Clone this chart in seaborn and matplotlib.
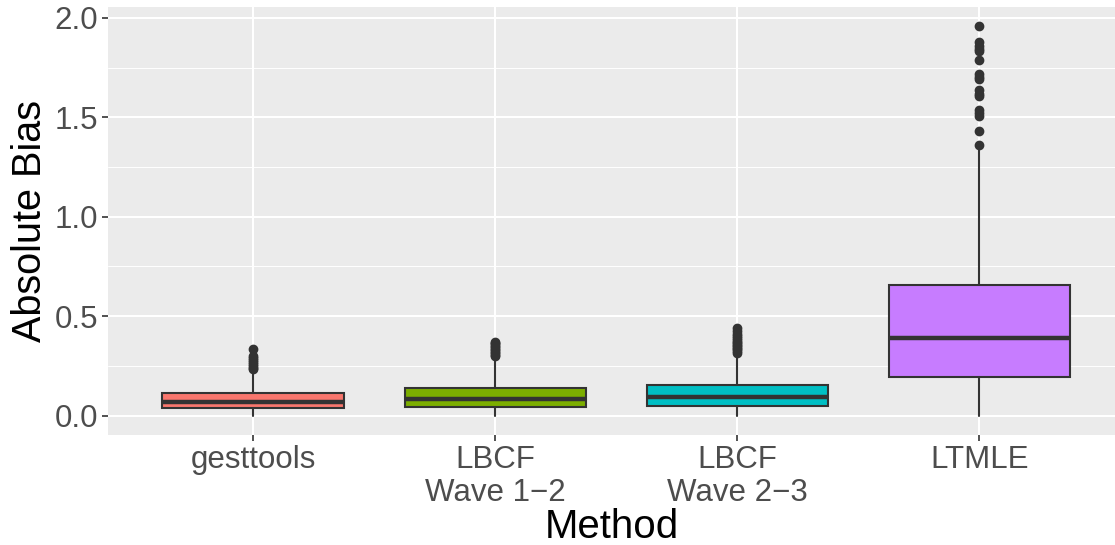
import seaborn as sns
import matplotlib.pyplot as plt

# box summaries
methods = ['gesttools', 'LBCF\nWave 1\u22122', 'LBCF\nWave 2\u22123', 'LTMLE']
colors = ['#F8766D', '#7CAE00', '#00BFC4', '#C77CFF']

whislo = [0.0, 0.0, 0.0, 0.0]
q1 = [0.036, 0.045, 0.049, 0.192]
med = [0.069, 0.083, 0.091, 0.392]
q3 = [0.114, 0.140, 0.153, 0.659]
whishi = [0.225, 0.283, 0.305, 1.35]

out_gest = [0.233, 0.24, 0.25, 0.26, 0.27, 0.28, 0.29, 0.297, 0.333]
out_lbcf12 = [0.298, 0.305, 0.312, 0.32, 0.328, 0.335, 0.343, 0.35, 0.358, 0.365, 0.372]
out_lbcf23 = [0.317, 0.325, 0.333, 0.34, 0.348, 0.356, 0.364, 0.372, 0.38, 0.39,
              0.40, 0.41, 0.425, 0.442]
out_ltmle = [1.363, 1.433, 1.507, 1.52, 1.537, 1.607, 1.615, 1.637, 1.695, 1.705,
             1.72, 1.79, 1.833, 1.845, 1.857, 1.878, 1.957]
outliers = [out_gest, out_lbcf12, out_lbcf23, out_ltmle]

sns.set_theme(style="darkgrid", rc={
    'axes.facecolor': '#EBEBEB',
    'grid.color': 'white',
    'axes.edgecolor': '#EBEBEB',
})
plt.rcParams['font.family'] = ['Liberation Sans', 'DejaVu Sans']

fig = plt.figure(figsize=(11.15, 5.45), dpi=100)
ax = fig.add_axes([108 / 1115, 1 - 435 / 545, 1 - 108 / 1115, 428 / 545])

stats = []
for i, m in enumerate(methods):
    stats.append({'label': m, 'whislo': whislo[i], 'q1': q1[i], 'med': med[i],
                  'q3': q3[i], 'whishi': whishi[i], 'fliers': outliers[i]})

edge = '#333333'
bp = ax.bxp(stats, positions=range(len(methods)), widths=0.75, patch_artist=True,
            showcaps=False,
            boxprops=dict(edgecolor=edge, linewidth=1.5),
            whiskerprops=dict(color=edge, linewidth=1.5),
            medianprops=dict(color=edge, linewidth=3.2, solid_capstyle='butt'),
            flierprops=dict(marker='o', markerfacecolor=edge, markeredgecolor=edge,
                            markersize=6, linestyle='none'))
for patch, c in zip(bp['boxes'], colors):
    patch.set_facecolor(c)

ax.set_xlim(-0.6, 3.56)
ax.set_ylim(-0.098, 2.055)
ax.set_yticks([0, 0.5, 1.0, 1.5, 2.0])
ax.set_yticklabels(['0.0', '0.5', '1.0', '1.5', '2.0'])
ax.set_yticks([0.25, 0.75, 1.25, 1.75], minor=True)
ax.set_xticks(range(len(methods)))
ax.set_xticklabels(methods, linespacing=1.13)

ax.grid(True, which='major', color='white', linewidth=1.5)
ax.grid(True, which='minor', axis='y', color='white', linewidth=0.7)
ax.set_axisbelow(True)
for s in ax.spines.values():
    s.set_visible(False)

ax.tick_params(axis='both', which='major', length=4, width=1.2, color=edge,
               labelsize=22.5, labelcolor='#4D4D4D', pad=3, bottom=True, left=True)
ax.tick_params(axis='y', which='minor', length=0)

ax.set_xlabel('Method', fontsize=29, color='black', labelpad=0.5)
ax.set_ylabel('Absolute Bias', fontsize=28.5, color='black', labelpad=4)

plt.savefig('out.png', dpi=100)
